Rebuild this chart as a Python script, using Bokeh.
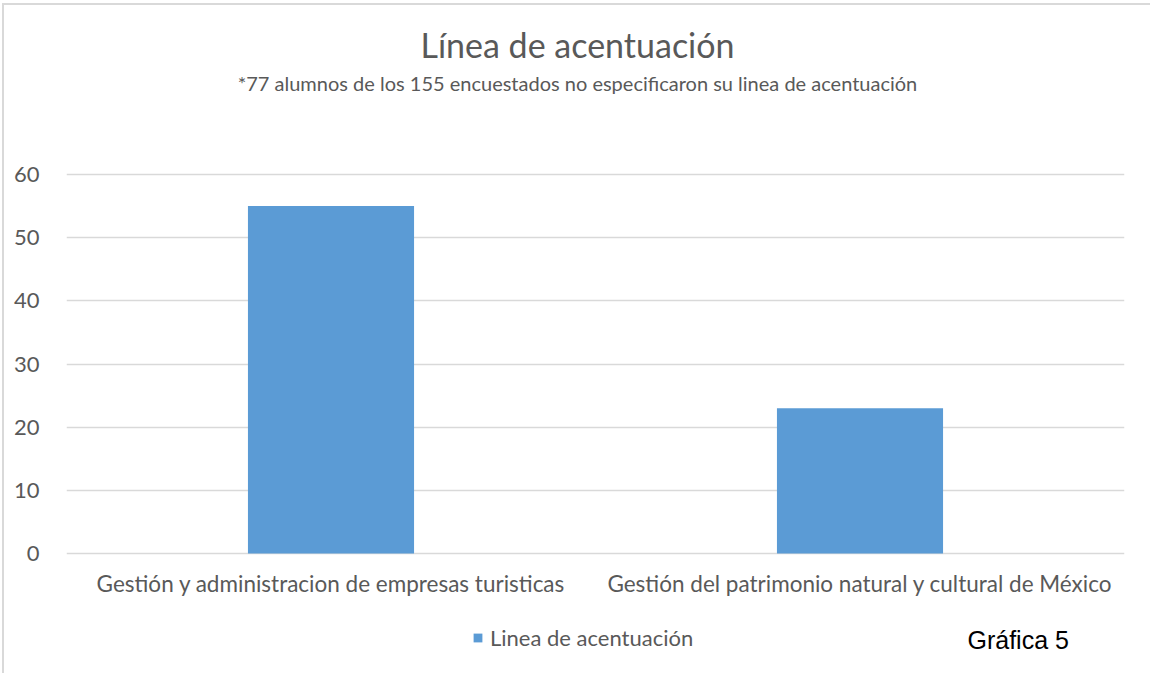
from bokeh.plotting import figure
from bokeh.models import (FactorRange, Range1d, Label, Legend, LegendItem,
                          FixedTicker, ColumnDataSource)
from bokeh.core.properties import value
from bokeh.embed import file_html
from bokeh.resources import INLINE

# ---- data ----
categories = ["Gestión y administracion de empresas turisticas",
              "Gestión del patrimonio natural y cultural de México"]
values = [55, 23]
y_ticks = [0, 10, 20, 30, 40, 50, 60]
series_name = "Linea de acentuación"
title_text = "Línea de acentuación"
subtitle_text = "*77 alumnos de los 155 encuestados no especificaron su linea de acentuación"
note_text = "Gráfica  5"

BAR = "#5B9BD5"
GRID = "#D9D9D9"
TXT = "#595959"
FONT = "Lato"

# layout (page pixels): canvas origin, frame, value axis scale
ORIGIN_X, ORIGIN_Y = 4, 5
Y0_PX, Y60_PX = 553.0, 174.0
PX_PER_UNIT = (Y0_PX - Y60_PX) / 60.0


def v(page_y):
    """page pixel row -> value-axis coordinate"""
    return (Y0_PX - page_y) / PX_PER_UNIT


p = figure(x_range=FactorRange(*categories, range_padding=0, factor_padding=0),
           y_range=Range1d(v(675), v(ORIGIN_Y)),
           width=1152 - ORIGIN_X, height=675 - ORIGIN_Y, title=None, x_axis_location=None,
           output_backend="svg", toolbar_location=None,
           min_border_left=66 - ORIGIN_X, min_border_right=28,
           min_border_top=0, min_border_bottom=0)
p.styles = {"margin-left": "2px", "margin-top": "3px",
            "border-left": "2px solid #D9D9D9", "border-top": "2px solid #D9D9D9"}
p.outline_line_color = None
p.background_fill_color = "white"
p.border_fill_color = "white"

bars = p.vbar(x=categories, top=values, width=0.314, color=BAR, line_color=None)

# value axis
p.yaxis.ticker = FixedTicker(ticks=y_ticks)
p.yaxis.axis_line_color = None
p.yaxis.major_tick_line_color = None
p.yaxis.minor_tick_line_color = None
p.yaxis.major_label_standoff = 21
p.yaxis.major_label_text_font = FONT
p.yaxis.major_label_text_font_size = "22px"
p.yaxis.major_label_text_color = TXT

p.xgrid.grid_line_color = None
p.ygrid.grid_line_color = GRID
p.ygrid.grid_line_width = 1.5

# category labels under the bars
cat_src = ColumnDataSource(dict(x=categories, y=[v(583)] * len(categories), t=categories))
p.text(x="x", y="y", text="t", source=cat_src, text_align="center",
       text_baseline="alphabetic", text_font=value(FONT), text_font_size="22.5px",
       text_color=TXT)

# titles
p.add_layout(Label(x=1.0, y=v(44), x_offset=-18, text=title_text,
                   text_align="center", text_baseline="alphabetic",
                   text_font=FONT, text_font_size="34px", text_color=TXT))
p.add_layout(Label(x=1.0, y=v(82), x_offset=-18, text=subtitle_text,
                   text_align="center", text_baseline="alphabetic",
                   text_font=FONT, text_font_size="20px", text_color=TXT))
p.add_layout(Label(x=2.0, y=v(639), x_offset=-157, text=note_text,
                   text_align="left", text_baseline="alphabetic",
                   text_font="Liberation Sans", text_font_size="25px", text_color="black"))

legend = Legend(items=[LegendItem(label=series_name, renderers=[bars])],
                location=(472 - 66, 24), orientation="horizontal",
                glyph_width=11, glyph_height=11, label_standoff=7,
                padding=0, margin=0, spacing=0,
                border_line_alpha=0, background_fill_alpha=0,
                label_text_font=FONT, label_text_font_size="22px",
                label_text_color=TXT)
p.add_layout(legend, "center")

open("out.html", "w").write(file_html(p, INLINE))
